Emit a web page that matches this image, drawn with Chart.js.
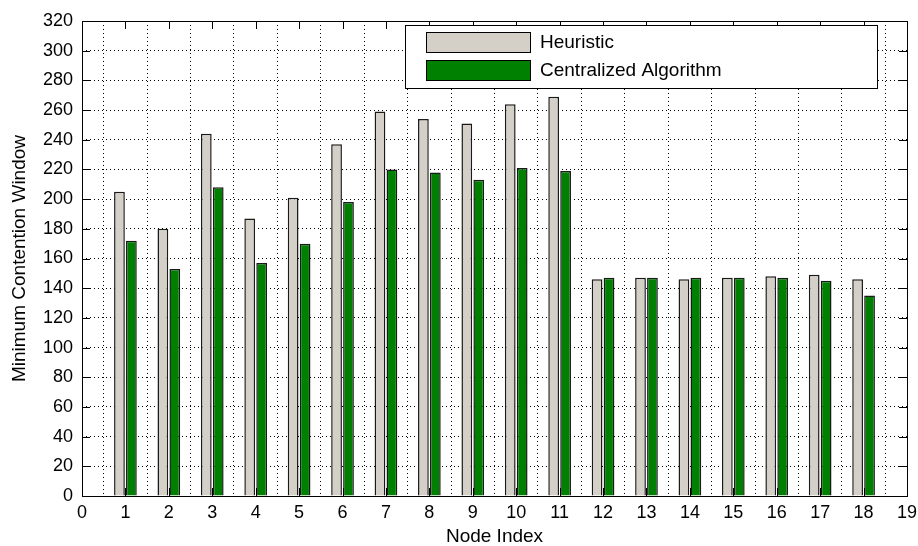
<!DOCTYPE html>
<html>
<head>
<meta charset="utf-8">
<title>Minimum Contention Window</title>
<script src="https://cdn.jsdelivr.net/npm/chart.js@4.4.1/dist/chart.umd.min.js"></script>
<style>
  html, body { margin: 0; padding: 0; background: #fff; }
  canvas { display: block; }
</style>
</head>
<body>
<canvas id="myChart" width="918" height="546"></canvas>
<script>
// axis runs 0..19, nodes sit on 1..18
var nodeLabels = ['0','1','2','3','4','5','6','7','8','9','10','11','12','13','14','15','16','17','18','19'];
var heuristic = [null, 205, 180, 244, 187, 201, 237, 259, 254, 251, 264, 269, 146, 147, 146, 147, 148, 149, 146, null];
var centralized = [null, 172, 153, 208, 157, 170, 198, 220, 218, 213, 221, 219, 147, 147, 147, 147, 147, 145, 135, null];
var seriesNames = ['Heuristic', 'Centralized Algorithm'];
var seriesColors = ['#d4d0c8', '#008000'];

var FONT = 'Arial, "Liberation Sans", sans-serif';

// ticks pointing inward, frame and legend box (matlab style)
var frameAndLegend = {
  id: 'frameAndLegend',
  afterDatasetsDraw: function (chart) {
    var ctx = chart.ctx;
    var a = chart.chartArea;
    var xs = chart.scales.x;
    var ys = chart.scales.y;
    var len = 8;

    ctx.save();
    ctx.strokeStyle = '#000';
    ctx.lineWidth = 1;
    ctx.beginPath();
    for (var i = 0; i < nodeLabels.length; i++) {
      var px = Math.round(xs.getPixelForValue(i)) + 0.5;
      ctx.moveTo(px, a.bottom); ctx.lineTo(px, a.bottom - len);
      ctx.moveTo(px, a.top); ctx.lineTo(px, a.top + len);
    }
    ys.ticks.forEach(function (t) {
      var py = Math.round(ys.getPixelForValue(t.value)) + 0.5;
      ctx.moveTo(a.left, py); ctx.lineTo(a.left + len, py);
      ctx.moveTo(a.right, py); ctx.lineTo(a.right - len, py);
    });
    ctx.stroke();
    ctx.strokeRect(Math.round(a.left) + 0.5, Math.round(a.top) + 0.5,
      Math.round(a.right - a.left), Math.round(a.bottom - a.top));

    // legend
    var lx = 405, ly = 25, lw = 472, lh = 63;
    ctx.fillStyle = '#fff';
    ctx.fillRect(lx, ly, lw, lh);
    ctx.strokeRect(lx + 0.5, ly + 0.5, lw, lh);
    ctx.font = '19px ' + FONT;
    ctx.textBaseline = 'middle';
    chart.data.datasets.forEach(function (ds, k) {
      var sy = 32 + k * 28;
      ctx.fillStyle = ds.backgroundColor;
      ctx.fillRect(426, sy, 104, 20);
      ctx.strokeStyle = '#000';
      ctx.strokeRect(426.5, sy + 0.5, 104, 20);
      ctx.fillStyle = '#000';
      ctx.fillText(ds.label, 540, sy + 11);
    });
    ctx.restore();
  }
};

var ctx = document.getElementById('myChart').getContext('2d');
var myChart = new Chart(ctx, {
  type: 'bar',
  data: {
    labels: nodeLabels,
    datasets: [{
      label: seriesNames[0],
      data: heuristic,
      backgroundColor: seriesColors[0],
      borderColor: '#1a1a1a',
      borderWidth: 1.5,
      categoryPercentage: 0.55,
      barPercentage: 0.9
    }, {
      label: seriesNames[1],
      data: centralized,
      backgroundColor: seriesColors[1],
      borderColor: '#1a1a1a',
      borderWidth: 1.5,
      categoryPercentage: 0.55,
      barPercentage: 0.9
    }]
  },
  options: {
    responsive: false,
    devicePixelRatio: 1,
    animation: false,
    layout: { padding: { left: 0, top: 21, right: 11, bottom: 0 } },
    plugins: {
      legend: { display: false },
      tooltip: { enabled: false }
    },
    scales: {
      x: {
        type: 'category',
        offset: false,
        afterFit: function (s) { s.height = 50; s.paddingRight = 0; s.paddingLeft = 0; },
        grid: { color: '#000', lineWidth: 1, drawTicks: false },
        border: { display: false, dash: [1, 3] },
        ticks: { color: '#000', font: { family: FONT, size: 18 }, padding: 6, maxRotation: 0, autoSkip: false },
        title: { display: true, text: 'Node Index', color: '#000', font: { family: FONT, size: 19, lineHeight: 1 }, padding: { top: 0, bottom: 0 } }
      },
      y: {
        min: 0,
        max: 320,
        afterFit: function (s) { s.width = 82; s.paddingTop = 0; s.paddingBottom = 0; },
        grid: { color: '#000', lineWidth: 1, drawTicks: false },
        border: { display: false, dash: [1, 3] },
        ticks: { stepSize: 20, color: '#000', font: { family: FONT, size: 18 }, padding: 9 },
        title: { display: true, text: 'Minimum Contention Window', color: '#000', font: { family: FONT, size: 19 }, padding: { top: 8, bottom: 0 } }
      }
    }
  },
  plugins: [frameAndLegend]
});
</script>
</body>
</html>
